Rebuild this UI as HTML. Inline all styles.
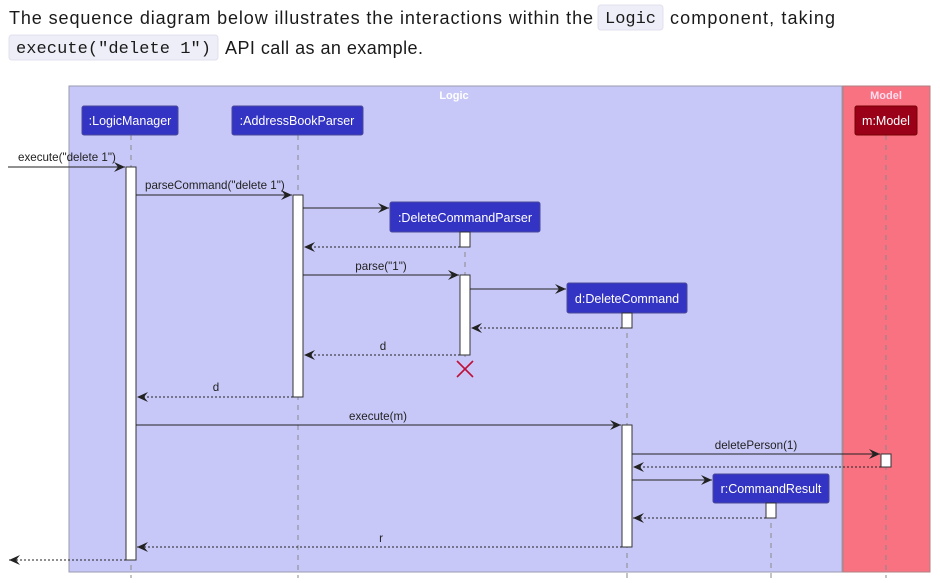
<!DOCTYPE html>
<html><head><meta charset="utf-8"><style>
html,body{margin:0;padding:0;background:#fff;width:940px;height:583px;overflow:hidden}
svg{display:block}
.t{font-family:"Liberation Sans",sans-serif;font-size:11.6px;fill:#222}
.p{font-family:"Liberation Sans",sans-serif;font-size:12.5px;fill:#fff}
.body{font-family:"Liberation Sans",sans-serif;font-size:18px;fill:#1a1a1a}
.code{font-family:"Liberation Mono",monospace;font-size:17px;fill:#1a1a1a}
</style></head><body>
<svg width="940" height="583" viewBox="0 0 940 583" xmlns="http://www.w3.org/2000/svg">
<defs>
<marker id="a" markerWidth="12" markerHeight="10" refX="11" refY="5" orient="auto" markerUnits="userSpaceOnUse">
<path d="M0,0 L11,5 L0,10 L4,5 Z" fill="#222"/></marker>
</defs>
<text class="body" x="9" y="24" textLength="584">The sequence diagram below illustrates the interactions within the</text>
<rect x="598" y="5" width="65" height="25" rx="3" fill="#eeeef8" stroke="#e0e0ee"/>
<text class="code" x="605" y="23" textLength="51">Logic</text>
<text class="body" x="670" y="24" textLength="165">component, taking</text>
<rect x="9" y="35" width="209" height="25" rx="3" fill="#eeeef8" stroke="#e0e0ee"/>
<text class="code" x="16" y="53" textLength="195">execute("delete 1")</text>
<text class="body" x="225" y="54" textLength="198">API call as an example.</text>

<rect x="69" y="86" width="773" height="486" fill="#c8c8f8" stroke="#9a9ab0"/>
<rect x="843" y="86" width="87" height="486" fill="#f87282" stroke="#b08080"/>
<text x="454" y="99" text-anchor="middle" font-family="Liberation Sans,sans-serif" font-size="11" font-weight="bold" fill="#fff">Logic</text>
<text x="886" y="99" text-anchor="middle" font-family="Liberation Sans,sans-serif" font-size="11" font-weight="bold" fill="#fde">Model</text>

<g stroke="#888" stroke-dasharray="5,5" stroke-width="1">
<line x1="131" y1="135" x2="131" y2="578"/>
<line x1="298" y1="135" x2="298" y2="578"/>
<line x1="465" y1="232" x2="465" y2="360"/>
<line x1="627" y1="313" x2="627" y2="578"/>
<line x1="771" y1="503" x2="771" y2="578"/>
<line x1="886" y1="135" x2="886" y2="578"/>
</g>

<g stroke="#4a4a9a" stroke-width="1">
<rect x="82" y="106" width="96" height="29" rx="2" fill="#3333c4"/>
<rect x="232" y="106" width="131" height="29" rx="2" fill="#3333c4"/>
<rect x="390" y="202" width="150" height="30" rx="2" fill="#3333c4"/>
<rect x="567" y="283" width="120" height="30" rx="2" fill="#3333c4"/>
<rect x="713" y="474" width="116" height="29" rx="2" fill="#3333c4"/>
<rect x="855" y="106" width="62" height="29" rx="2" fill="#9a0018" stroke="#700"/>
</g>
<text class="p" x="130" y="125" text-anchor="middle">:LogicManager</text>
<text class="p" x="297" y="125" text-anchor="middle">:AddressBookParser</text>
<text class="p" x="465" y="222" text-anchor="middle">:DeleteCommandParser</text>
<text class="p" x="627" y="303" text-anchor="middle">d:DeleteCommand</text>
<text class="p" x="771" y="493" text-anchor="middle">r:CommandResult</text>
<text class="p" x="886" y="125" text-anchor="middle">m:Model</text>

<g fill="#fff" stroke="#333" stroke-width="1">
<rect x="126" y="167" width="10" height="393"/>
<rect x="293" y="195" width="10" height="202"/>
<rect x="460" y="232" width="10" height="15"/>
<rect x="460" y="275" width="10" height="80"/>
<rect x="622" y="313" width="10" height="15"/>
<rect x="622" y="425" width="10" height="122"/>
<rect x="881" y="454" width="10" height="13"/>
<rect x="766" y="503" width="10" height="15"/>
</g>

<g stroke="#222" stroke-width="1" fill="none">
<line x1="8" y1="167" x2="125" y2="167" marker-end="url(#a)"/>
<line x1="136" y1="195" x2="292" y2="195" marker-end="url(#a)"/>
<line x1="303" y1="208" x2="389" y2="208" marker-end="url(#a)"/>
<line x1="303" y1="275" x2="459" y2="275" marker-end="url(#a)"/>
<line x1="470" y1="289" x2="566" y2="289" marker-end="url(#a)"/>
<line x1="136" y1="425" x2="621" y2="425" marker-end="url(#a)"/>
<line x1="632" y1="454" x2="880" y2="454" marker-end="url(#a)"/>
<line x1="632" y1="480" x2="712" y2="480" marker-end="url(#a)"/>
</g>
<g stroke="#222" stroke-width="1" fill="none" stroke-dasharray="2,2">
<line x1="460" y1="247" x2="304" y2="247" marker-end="url(#a)"/>
<line x1="622" y1="328" x2="471" y2="328" marker-end="url(#a)"/>
<line x1="460" y1="355" x2="304" y2="355" marker-end="url(#a)"/>
<line x1="293" y1="397" x2="137" y2="397" marker-end="url(#a)"/>
<line x1="881" y1="467" x2="633" y2="467" marker-end="url(#a)"/>
<line x1="766" y1="518" x2="633" y2="518" marker-end="url(#a)"/>
<line x1="622" y1="547" x2="137" y2="547" marker-end="url(#a)"/>
<line x1="126" y1="560" x2="9" y2="560" marker-end="url(#a)"/>
</g>
<g stroke="#c0103a" stroke-width="1.6">
<line x1="457" y1="361" x2="473" y2="377"/><line x1="473" y1="361" x2="457" y2="377"/>
</g>

<text class="t" x="18" y="161">execute("delete 1")</text>
<text class="t" x="145" y="189">parseCommand("delete 1")</text>
<text class="t" x="381" y="270" text-anchor="middle">parse("1")</text>
<text class="t" x="383" y="350" text-anchor="middle">d</text>
<text class="t" x="216" y="391" text-anchor="middle">d</text>
<text class="t" x="378" y="420" text-anchor="middle">execute(m)</text>
<text class="t" x="756" y="449" text-anchor="middle">deletePerson(1)</text>
<text class="t" x="381" y="542" text-anchor="middle">r</text>
</svg>
</body></html>
